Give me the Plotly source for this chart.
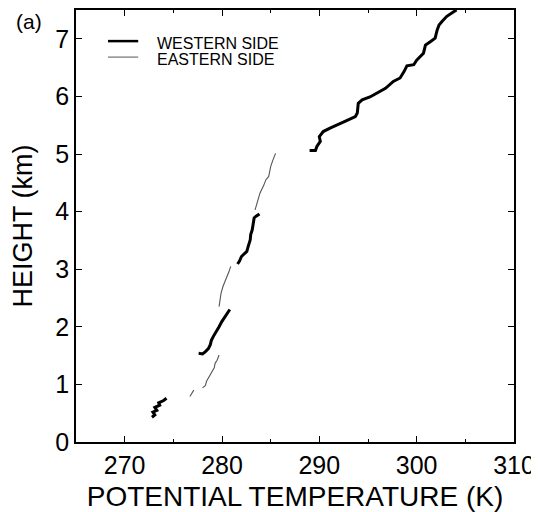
import plotly.graph_objects as go

# ---- data (potential temperature K, height km); None separates segments ----
west_theta = [272.8, 273.1, 272.9, 273.3, 273.1, 273.6, 273.5, 274.0, 274.3, None,
              277.6, 278.0, 278.3, 278.6, 278.8, 278.9, 279.1, 279.3, 279.5, 279.7, 279.98, 280.2, 280.5, 280.8, None,
              281.6, 281.8, 282.0, 282.55, 282.7, 282.9, 282.95, 283.1, 283.2, 283.3, 283.5, 283.85, None,
              289.0, 289.6, 289.75, 290.1, 290.0, 290.4, 291.1, 291.8, 292.8, 293.7, 293.9, 294.0, 294.4,
              295.2, 295.9, 296.8, 297.6, 298.3, 298.7, 299.0, 299.7, 300.0, 300.7, 300.9, 301.4, 301.9,
              302.1, 302.3, 302.6, 303.1, 303.8, 304.1]
west_height = [0.43, 0.47, 0.52, 0.55, 0.60, 0.64, 0.68, 0.72, 0.76, None,
               1.54, 1.53, 1.57, 1.62, 1.69, 1.76, 1.83, 1.88, 1.95, 2.00, 2.09, 2.15, 2.24, 2.30, None,
               3.09, 3.14, 3.22, 3.31, 3.40, 3.51, 3.60, 3.68, 3.78, 3.89, 3.92, 3.96, None,
               5.06, 5.06, 5.13, 5.22, 5.30, 5.39, 5.45, 5.50, 5.58, 5.65, 5.71, 5.88, 5.94,
               5.99, 6.06, 6.14, 6.26, 6.32, 6.43, 6.53, 6.55, 6.63, 6.75, 6.89, 6.95, 7.01,
               7.15, 7.24, 7.30, 7.39, 7.47, 7.50]

east_theta = [276.7, 276.9, 277.1, None,
              278.0, 278.3, 278.4, 278.6, 278.95, 279.2, 279.3, 279.5, 279.7, None,
              279.7, 279.8, 279.9, 280.1, 280.3, 280.5, 280.7, 280.9, None,
              283.4, 283.6, 283.9, 284.3, 284.5, 284.8, 285.0, 285.2, 285.5]
east_height = [0.79, 0.85, 0.90, None,
               0.94, 0.98, 1.05, 1.11, 1.20, 1.29, 1.37, 1.42, 1.51, None,
               2.35, 2.45, 2.58, 2.70, 2.80, 2.87, 2.95, 3.05, None,
               4.03, 4.15, 4.32, 4.46, 4.55, 4.61, 4.78, 4.88, 5.01]

x_ticks = [270, 280, 290, 300, 310]
y_ticks = [0, 1, 2, 3, 4, 5, 6, 7]
series_names = ["WESTERN SIDE", "EASTERN SIDE"]
series_colors = ["black", "#555555"]
series_widths = [3, 1.1]

FONT = "Liberation Sans, Arial, sans-serif"

fig = go.Figure()
fig.add_trace(go.Scatter(x=west_theta, y=west_height, mode="lines", name=series_names[0],
                         line=dict(color=series_colors[0], width=series_widths[0]),
                         connectgaps=False, hoverinfo="skip"))
fig.add_trace(go.Scatter(x=east_theta, y=east_height, mode="lines", name=series_names[1],
                         line=dict(color=series_colors[1], width=series_widths[1]),
                         connectgaps=False, hoverinfo="skip"))

axis_common = dict(showline=True, linecolor="black", linewidth=1.5, mirror="ticks",
                   ticks="inside", tickcolor="black", ticklen=6, tickwidth=1.2,
                   showgrid=False, zeroline=False,
                   tickfont=dict(family=FONT, size=25, color="black"))

fig.update_xaxes(range=[265, 310], tickvals=x_ticks, ticktext=[str(v) for v in x_ticks],
                 minor=dict(ticks="inside", dtick=5, tick0=265, ticklen=3, tickcolor="black", showgrid=False),
                 title=dict(text="POTENTIAL TEMPERATURE (K)", font=dict(family=FONT, size=28, color="black"),
                            standoff=13),
                 **axis_common)
fig.update_yaxes(range=[0, 7.5], tickvals=y_ticks, ticktext=[str(v) for v in y_ticks],
                 title=dict(text="HEIGHT (km)", font=dict(family=FONT, size=27, color="black"),
                            standoff=16),
                 **axis_common)

fig.add_annotation(text="(a)", xref="paper", yref="paper", x=-0.142, y=0.9745,
                   xanchor="left", yanchor="middle", showarrow=False,
                   font=dict(family=FONT, size=21, color="black"))

# hand-placed legend (tight line spacing as in the reference)
leg_y = [0.928, 0.891]
for name, col, w, yy in zip(series_names, series_colors, series_widths, leg_y):
    fig.add_shape(type="line", xref="paper", yref="paper", x0=0.073, x1=0.142, y0=yy, y1=yy,
                  line=dict(color=col, width=2.5 if w > 2 else 1))
    fig.add_annotation(text=name, xref="paper", yref="paper", x=0.18, y=yy - 0.006,
                       xanchor="left", yanchor="middle", showarrow=False,
                       font=dict(family=FONT, size=16, color="black"))

fig.update_layout(
    width=531, height=504,
    margin=dict(l=68, r=25, t=2, b=70, autoexpand=False),
    paper_bgcolor="white", plot_bgcolor="white",
    showlegend=False,
)

fig.write_html("out.html")
